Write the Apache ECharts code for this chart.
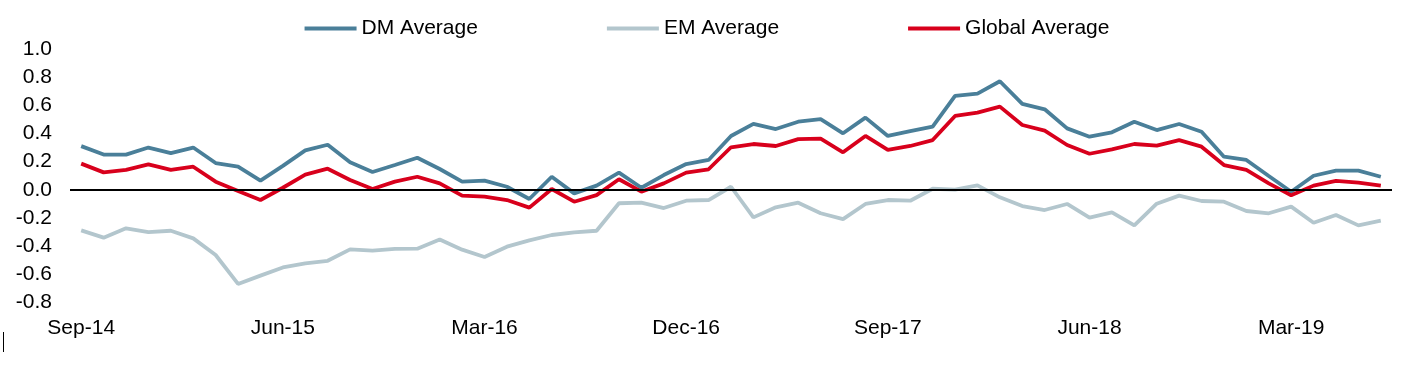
<!DOCTYPE html>
<html>
<head>
<meta charset="utf-8">
<script src="https://cdn.jsdelivr.net/npm/echarts@6/dist/echarts.min.js"></script>
<style>
html,body{margin:0;padding:0;background:#fff;}
#chart{width:1414px;height:367px;}
</style>
</head>
<body>
<div id="chart"></div>
<script>
const categories = [
 'Sep-14','Oct-14','Nov-14','Dec-14','Jan-15','Feb-15','Mar-15','Apr-15','May-15',
 'Jun-15','Jul-15','Aug-15','Sep-15','Oct-15','Nov-15','Dec-15','Jan-16','Feb-16',
 'Mar-16','Apr-16','May-16','Jun-16','Jul-16','Aug-16','Sep-16','Oct-16','Nov-16',
 'Dec-16','Jan-17','Feb-17','Mar-17','Apr-17','May-17','Jun-17','Jul-17','Aug-17',
 'Sep-17','Oct-17','Nov-17','Dec-17','Jan-18','Feb-18','Mar-18','Apr-18','May-18',
 'Jun-18','Jul-18','Aug-18','Sep-18','Oct-18','Nov-18','Dec-18','Jan-19','Feb-19',
 'Mar-19','Apr-19','May-19','Jun-19','Jul-19'
];

const dmAverage = [
 0.31, 0.25, 0.25, 0.30, 0.26, 0.30, 0.19, 0.165, 0.065,
 0.17, 0.28, 0.32, 0.195, 0.127, 0.176, 0.228, 0.148, 0.058,
 0.065, 0.022, -0.065, 0.093, -0.025, 0.03, 0.122, 0.015, 0.105,
 0.183, 0.212, 0.382, 0.468, 0.431, 0.483, 0.502, 0.401, 0.512,
 0.382, 0.417, 0.448, 0.667, 0.682, 0.77, 0.61, 0.571, 0.436,
 0.377, 0.408, 0.483, 0.424, 0.467, 0.412, 0.235, 0.212, 0.098,
 -0.013, 0.10, 0.136, 0.136, 0.093
];

const emAverage = [
 -0.287, -0.339, -0.273, -0.299, -0.29, -0.344, -0.462, -0.667, -0.608,
 -0.55, -0.521, -0.503, -0.422, -0.431, -0.418, -0.417, -0.352, -0.424,
 -0.476, -0.403, -0.358, -0.32, -0.301, -0.29, -0.095, -0.091, -0.129,
 -0.077, -0.072, 0.022, -0.195, -0.124, -0.091, -0.166, -0.207, -0.1,
 -0.072, -0.077, 0.008, 0.001, 0.032, -0.053, -0.115, -0.143, -0.1,
 -0.197, -0.159, -0.252, -0.098, -0.041, -0.079, -0.084, -0.15, -0.166,
 -0.119, -0.233, -0.178, -0.252, -0.218
];

const globalAverage = [
 0.186, 0.124, 0.141, 0.181, 0.141, 0.164, 0.058, -0.008, -0.072,
 0.015, 0.108, 0.15, 0.07, 0.006, 0.058, 0.093, 0.046, -0.041,
 -0.048, -0.072, -0.126, 0.006, -0.084, -0.037, 0.075, -0.013, 0.046,
 0.122, 0.146, 0.302, 0.325, 0.311, 0.36, 0.363, 0.266, 0.382,
 0.283, 0.311, 0.353, 0.524, 0.548, 0.59, 0.46, 0.42, 0.318,
 0.256, 0.287, 0.325, 0.313, 0.353, 0.306, 0.176, 0.141, 0.046,
 -0.039, 0.03, 0.063, 0.051, 0.03
];

const seriesNames = ['DM Average', 'EM Average', 'Global Average'];
const seriesColors = ['#4A7F99', '#B3C6CD', '#D8001C'];

const chart = echarts.init(document.getElementById('chart'), null, {renderer: 'canvas'});
const font = 'Liberation Sans, Arial, sans-serif';

chart.setOption({
  animation: false,
  backgroundColor: '#fff',
  textStyle: {fontFamily: font},
  legend: {
    top: 13,
    left: 'center',
    itemWidth: 52,
    itemHeight: 4,
    itemGap: 129,
    icon: 'rect',
    textStyle: {fontSize: 21, color: '#000', fontFamily: font},
    data: seriesNames
  },
  grid: {left: 70, right: 22, top: 48.8, bottom: 64.3, containLabel: false},
  xAxis: {
    type: 'category',
    data: categories,
    boundaryGap: true,
    axisLine: {show: false},
    axisTick: {show: false},
    splitLine: {show: false},
    axisLabel: {interval: 8, fontSize: 21, color: '#000', margin: 15, fontFamily: font}
  },
  yAxis: {
    type: 'value',
    min: -0.8,
    max: 1.0,
    interval: 0.2,
    axisLine: {show: false},
    axisTick: {show: false},
    splitLine: {show: false},
    axisLabel: {
      fontSize: 21, color: '#000', margin: 18, fontFamily: font,
      formatter: v => v.toFixed(1)
    }
  },
  graphic: [{
    type: 'line',
    shape: {x1: 3.5, y1: 332, x2: 3.5, y2: 352},
    style: {stroke: '#000', lineWidth: 1}
  }],
  series: [
    {
      name: seriesNames[0], type: 'line', data: dmAverage, symbol: 'none',
      lineStyle: {width: 3.8, color: seriesColors[0]}, itemStyle: {color: seriesColors[0]},
      z: 3,
      markLine: {
        silent: true, symbol: 'none', label: {show: false},
        lineStyle: {color: '#000', width: 2, type: 'solid'},
        data: [{yAxis: 0}]
      }
    },
    {
      name: seriesNames[1], type: 'line', data: emAverage, symbol: 'none',
      lineStyle: {width: 3.8, color: seriesColors[1]}, itemStyle: {color: seriesColors[1]}, z: 2
    },
    {
      name: seriesNames[2], type: 'line', data: globalAverage, symbol: 'none',
      lineStyle: {width: 3.8, color: seriesColors[2]}, itemStyle: {color: seriesColors[2]}, z: 4
    }
  ]
});
</script>
</body>
</html>
